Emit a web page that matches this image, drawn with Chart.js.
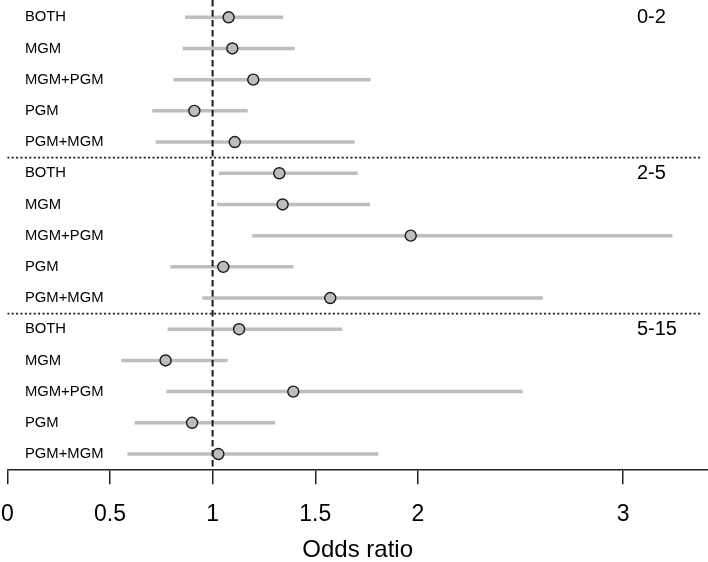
<!DOCTYPE html>
<html>
<head>
<meta charset="utf-8">
<script src="https://cdn.jsdelivr.net/npm/chart.js@4/dist/chart.umd.min.js"></script>
<style>
  html, body { margin: 0; padding: 0; background: #ffffff; }
  #wrap { width: 708px; height: 562px; }
</style>
</head>
<body>
<div id="wrap"><canvas id="c" width="708" height="562"></canvas></div>
<script>
// ---- data ----
const groupLabels = ['0-2', '2-5', '5-15'];
const rowLabels = ['BOTH', 'MGM', 'MGM+PGM', 'PGM', 'PGM+MGM'];

const or02 = [1.078, 1.096, 1.198, 0.911, 1.108];
const lo02 = [0.866, 0.854, 0.810, 0.706, 0.723];
const hi02 = [1.344, 1.400, 1.770, 1.171, 1.692];

const or25 = [1.325, 1.341, 1.965, 1.052, 1.573];
const lo25 = [1.031, 1.021, 1.193, 0.794, 0.950];
const hi25 = [1.707, 1.767, 3.239, 1.393, 2.608];

const or515 = [1.129, 0.771, 1.393, 0.900, 1.028];
const lo515 = [0.781, 0.555, 0.775, 0.620, 0.585];
const hi515 = [1.632, 1.073, 2.510, 1.305, 1.807];

const xTicks = [0, 0.5, 1, 1.5, 2, 3];
const xTickLabels = ['0', '0.5', '1', '1.5', '2', '3'];
const xTitle = 'Odds ratio';
const refValue = 1;

// ---- build datasets ----
const groupsOR = [or02, or25, or515];
const groupsLo = [lo02, lo25, lo515];
const groupsHi = [hi02, hi25, hi515];

const Y_MIN = -0.554, Y_MAX = 14.49;
const X_MIN = 0, X_MAX = 3.413;

const pointData = [];
const ciDatasets = [];
groupsOR.forEach((ors, g) => {
  ors.forEach((v, i) => {
    const k = g * rowLabels.length + i;
    pointData.push({ x: v, y: k });
    ciDatasets.push({
      type: 'scatter',
      data: [{ x: groupsLo[g][i], y: k }, { x: groupsHi[g][i], y: k }],
      showLine: true,
      borderColor: '#bebebe',
      borderWidth: 3.5,
      borderCapStyle: 'butt',
      pointRadius: 0,
      order: 3
    });
  });
});

const refLines = [
  {
    type: 'scatter',
    data: [{ x: refValue, y: Y_MIN }, { x: refValue, y: Y_MAX }],
    showLine: true, borderColor: '#1a1a1a', borderWidth: 2,
    borderDash: [6.5, 3.5], pointRadius: 0, order: 2
  },
  {
    type: 'scatter',
    data: [{ x: 0, y: 4.5 }, { x: 3.384, y: 4.5 }],
    showLine: true, borderColor: '#1a1a1a', borderWidth: 1.8,
    borderDash: [2, 2.4], pointRadius: 0, order: 2
  },
  {
    type: 'scatter',
    data: [{ x: 0, y: 9.5 }, { x: 3.384, y: 9.5 }],
    showLine: true, borderColor: '#1a1a1a', borderWidth: 1.8,
    borderDash: [2, 2.4], pointRadius: 0, order: 2
  }
];

const pointsDataset = {
  type: 'scatter',
  data: pointData,
  showLine: false,
  pointRadius: 5.5,
  pointBackgroundColor: '#bdbdbd',
  pointBorderColor: '#1a1a1a',
  pointBorderWidth: 1.4,
  order: 0
};

const textPlugin = {
  id: 'rowText',
  afterDatasetsDraw(chart) {
    const ctx = chart.ctx;
    const xs = chart.scales.x, ys = chart.scales.y;
    ctx.save();
    ctx.fillStyle = '#000';
    ctx.textBaseline = 'middle';
    ctx.textAlign = 'left';
    groupLabels.forEach((gl, g) => {
      ctx.font = '14.8px "Liberation Sans", Arial, sans-serif';
      rowLabels.forEach((rl, i) => {
        const k = g * rowLabels.length + i;
        ctx.fillText(rl, xs.getPixelForValue(0.086), ys.getPixelForValue(k));
      });
      ctx.font = '20px "Liberation Sans", Arial, sans-serif';
      ctx.fillText(gl, xs.getPixelForValue(3.067), ys.getPixelForValue(g * rowLabels.length));
    });
    ctx.restore();
  }
};

Chart.defaults.font.family = '"Liberation Sans", Arial, sans-serif';
Chart.defaults.color = '#000';

new Chart(document.getElementById('c'), {
  type: 'scatter',
  data: { datasets: [pointsDataset, ...refLines, ...ciDatasets] },
  options: {
    responsive: false,
    animation: false,
    events: [],
    layout: { autoPadding: false, padding: { left: 7.3, right: 0, top: 0, bottom: 0 } },
    plugins: { legend: { display: false }, tooltip: { enabled: false }, title: { display: false } },
    scales: {
      x: {
        type: 'linear',
        position: 'bottom',
        min: X_MIN,
        max: X_MAX,
        afterBuildTicks(scale) { scale.ticks = xTicks.map(v => ({ value: v })); },
        afterFit(scale) { scale.height = 92.7; scale.paddingLeft = 0; scale.paddingRight = 0; },
        grid: { display: true, drawOnChartArea: false, drawTicks: true, tickLength: 15, color: '#222', lineWidth: 1.5 },
        border: { display: true, color: '#222', width: 1.5 },
        ticks: {
          autoSkip: false, maxRotation: 0, minRotation: 0, padding: 17,
          color: '#000', font: { size: 23 },
          callback(value) {
            const idx = xTicks.indexOf(value);
            return idx >= 0 ? xTickLabels[idx] : String(value);
          }
        },
        title: {
          display: true, text: xTitle, color: '#000',
          font: { size: 24, lineHeight: 1 }, padding: { top: 0, bottom: 0 }
        }
      },
      y: {
        type: 'linear',
        display: false,
        reverse: true,
        min: Y_MIN,
        max: Y_MAX
      }
    }
  },
  plugins: [textPlugin]
});
</script>
</body>
</html>
